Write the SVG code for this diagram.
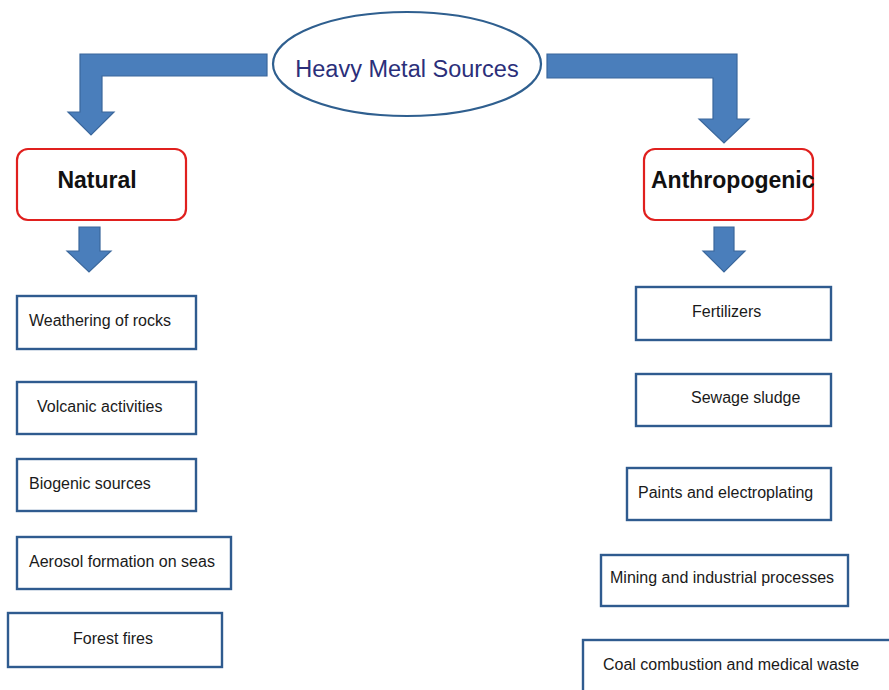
<svg xmlns="http://www.w3.org/2000/svg" width="889" height="690" viewBox="0 0 889 690">
<style>
.arrow{fill:#4a7ebb;stroke:#3a679c;stroke-width:1.2;stroke-linejoin:miter}
.cat{fill:#fff;stroke:#e0201e;stroke-width:2.2}
.item{fill:#fff;stroke:#2f5b8f;stroke-width:2.4}
.t{font-family:"Liberation Sans",Arial,sans-serif;font-size:16px;fill:#1a1a1a}
.b{font-family:"Liberation Sans",Arial,sans-serif;font-size:23px;font-weight:bold;fill:#111}
</style>
<rect width="889" height="690" fill="#fff"/>
<g id="connectors">
<path class="arrow" d="M267,54 L80,54 L80,112 L68,112 L91,135 L114,112 L102,112 L102,76 L267,76 Z"/>
<path class="arrow" d="M547,54 L737,54 L737,119 L749,119 L724,143 L699,119 L713,119 L713,78 L547,78 Z"/>
<path class="arrow" d="M79,227 L100,227 L100,251 L111,251 L89,272 L67,251 L79,251 Z"/>
<path class="arrow" d="M714,227 L734,227 L734,251 L745,251 L724,272 L703,251 L714,251 Z"/>
</g>
<g id="root">
<ellipse cx="407" cy="64" rx="134" ry="52" fill="#fff" stroke="#2f5f8f" stroke-width="2.2"/>
<text x="407" y="77" text-anchor="middle" font-family="Liberation Sans,Arial,sans-serif" font-size="23.5" fill="#2b2f7a">Heavy Metal Sources</text>
</g>
<g id="natural">
<rect class="cat" x="17" y="149" width="169" height="71" rx="11"/>
<text class="b" x="97" y="188" text-anchor="middle">Natural</text>
</g>
<g id="anthropogenic">
<rect class="cat" x="644" y="149" width="169" height="71" rx="11"/>
<text class="b" x="651" y="188">Anthropogenic</text>
</g>
<g id="n1"><rect class="item" x="17" y="296" width="179" height="53"/><text class="t" x="29" y="326">Weathering of rocks</text></g>
<g id="n2"><rect class="item" x="17" y="382" width="179" height="52"/><text class="t" x="37" y="412">Volcanic activities</text></g>
<g id="n3"><rect class="item" x="17" y="459" width="179" height="52"/><text class="t" x="29" y="489">Biogenic sources</text></g>
<g id="n4"><rect class="item" x="17" y="537" width="214" height="52"/><text class="t" x="29" y="567">Aerosol formation on seas</text></g>
<g id="n5"><rect class="item" x="8" y="613" width="214" height="54"/><text class="t" x="73" y="644">Forest fires</text></g>
<g id="a1"><rect class="item" x="636" y="287" width="195" height="53"/><text class="t" x="692" y="317">Fertilizers</text></g>
<g id="a2"><rect class="item" x="636" y="374" width="195" height="52"/><text class="t" x="691" y="403">Sewage sludge</text></g>
<g id="a3"><rect class="item" x="627" y="468" width="204" height="52"/><text class="t" x="638" y="498">Paints and electroplating</text></g>
<g id="a4"><rect class="item" x="601" y="555" width="247" height="51"/><text class="t" x="610" y="583">Mining and industrial processes</text></g>
<g id="a5"><rect class="item" x="583" y="640" width="320" height="60"/><text class="t" x="603" y="670">Coal combustion and medical waste</text></g>
</svg>
